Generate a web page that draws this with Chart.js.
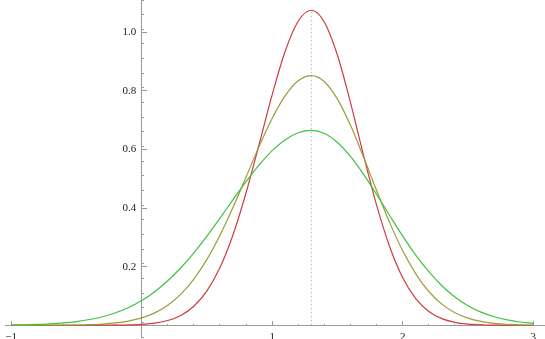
<!DOCTYPE html>
<html>
<head>
<meta charset="utf-8">
<script src="https://cdn.jsdelivr.net/npm/chart.js@4"></script>
<style>
  html, body { margin: 0; background: #fff; }
  #wrap { width: 545px; height: 339px; }
</style>
</head>
<body>
<div id="wrap"><canvas id="plot"></canvas></div>
<script>
// sample points along x
const xValues = [-1, -0.9, -0.8, -0.7, -0.6, -0.5, -0.4, -0.3, -0.2, -0.1,
  0, 0.1, 0.2, 0.3, 0.4, 0.5, 0.6, 0.7, 0.8, 0.9,
  1, 1.1, 1.2, 1.3, 1.4, 1.5, 1.6, 1.7, 1.8, 1.9,
  2, 2.1, 2.2, 2.3, 2.4, 2.5, 2.6, 2.7, 2.8, 2.9, 3];

// red (narrow) curve
const narrowCurve = [0, 0, 0, 0, 0, 0, 0.0001, 0.0002, 0.0004, 0.0012,
  0.0031, 0.0073, 0.0163, 0.0337, 0.065, 0.1172, 0.197, 0.3091, 0.4523, 0.6177,
  0.7871, 0.936, 1.0385, 1.075, 1.0343, 0.9213, 0.7597, 0.5799, 0.4098, 0.2681,
  0.1623, 0.091, 0.0472, 0.0227, 0.0101, 0.0041, 0.0016, 0.0006, 0.0002, 0.0001, 0];

// olive (middle) curve
const middleCurve = [0, 0, 0.0001, 0.0002, 0.0005, 0.001, 0.0021, 0.0041, 0.0079, 0.0144,
  0.0252, 0.0424, 0.0686, 0.1062, 0.1577, 0.2247, 0.3071, 0.4026, 0.5062, 0.6105,
  0.7064, 0.7839, 0.8345, 0.852, 0.8312, 0.7719, 0.6822, 0.574, 0.4596, 0.3503,
  0.2541, 0.1754, 0.1153, 0.0722, 0.0429, 0.0243, 0.0131, 0.0067, 0.0033, 0.0015, 0.0007];

// green (wide) curve
const wideCurve = [0.001, 0.0018, 0.0031, 0.005, 0.0081, 0.0127, 0.0196, 0.0292, 0.0426, 0.0608,
  0.0845, 0.1147, 0.1518, 0.1962, 0.2474, 0.3045, 0.3657, 0.4285, 0.4901, 0.547,
  0.5958, 0.6333, 0.657, 0.665, 0.6545, 0.6239, 0.5761, 0.5152, 0.4464, 0.3746,
  0.3044, 0.2397, 0.1828, 0.135, 0.0966, 0.067, 0.045, 0.0292, 0.0184, 0.0112, 0.0066];

// dotted marker at the common peak
const peakX = [1.3, 1.3];
const peakY = [0, 1.075];

const xTicksMajor = [-1, 1, 2, 3];
const yTicksMajor = [0.2, 0.4, 0.6, 0.8, 1.0];

const axisColor = '#9a9a9a';
const labelFont = { family: "'Liberation Serif', 'DejaVu Serif', serif", size: 11 };

const pts = (xs, ys) => xs.map((x, i) => ({ x, y: ys[i] }));

// axes sit on the origin, so they take no room of their own
const noRoom = s => {
  if (s.isHorizontal()) s.height = 0; else s.width = 0;
  s.paddingLeft = s.paddingRight = s.paddingTop = s.paddingBottom = 0;
};

const xRange = { min: -1.047, max: 3.09 };
const yRange = { min: -0.04, max: 1.11 };

const curve = (data, color) => ({
  data, borderColor: color, borderWidth: 1.2, pointRadius: 0,
  cubicInterpolationMode: 'monotone', fill: false
});

new Chart(document.getElementById('plot'), {
  type: 'line',
  data: {
    datasets: [
      { data: pts(peakX, peakY), borderColor: '#b4b4b4', borderWidth: 1, borderDash: [1.5, 2.5], pointRadius: 0 },
      curve(pts(xValues, wideCurve), '#3fc23f'),
      curve(pts(xValues, middleCurve), '#9d9b3b'),
      curve(pts(xValues, narrowCurve), '#cc3d3f')
    ]
  },
  options: {
    responsive: true,
    maintainAspectRatio: false,
    animation: false,
    layout: { padding: { left: 5, right: 0, top: 0, bottom: 2 } },
    plugins: { legend: { display: false }, tooltip: { enabled: false } },
    scales: {
      x: {
        type: 'linear', axis: 'x', ...xRange, position: { y: 0 }, afterFit: noRoom,
        ticks: { stepSize: 0.2, includeBounds: false, display: false },
        grid: { drawOnChartArea: false, tickLength: -2, tickColor: axisColor },
        border: { color: axisColor, width: 1 }
      },
      xMajor: {
        type: 'linear', axis: 'x', ...xRange, position: { y: 0 }, afterFit: noRoom,
        afterBuildTicks: s => { s.ticks = xTicksMajor.map(value => ({ value })); },
        ticks: {
          padding: 9, color: '#222', font: labelFont, maxRotation: 0, autoSkip: false,
          callback: v => v < 0 ? '\u2212' + Math.abs(v) : String(v)
        },
        grid: { drawOnChartArea: false, tickLength: -4, tickColor: axisColor },
        border: { display: false }
      },
      y: {
        type: 'linear', axis: 'y', ...yRange, position: { x: 0 }, afterFit: noRoom,
        ticks: { stepSize: 0.05, includeBounds: false, display: false },
        grid: { drawOnChartArea: false, tickLength: -3, tickColor: axisColor },
        border: { color: axisColor, width: 1 }
      },
      yMajor: {
        type: 'linear', axis: 'y', ...yRange, position: { x: 0 }, afterFit: noRoom,
        afterBuildTicks: s => { s.ticks = yTicksMajor.map(value => ({ value })); },
        ticks: {
          color: '#222', font: labelFont, autoSkip: false,
          // trailing en space keeps the label clear of the axis line
          callback: v => v.toFixed(1) + '\u2002'
        },
        grid: { drawOnChartArea: false, tickLength: -5, tickColor: axisColor },
        border: { display: false }
      }
    }
  }
});
</script>
</body>
</html>
